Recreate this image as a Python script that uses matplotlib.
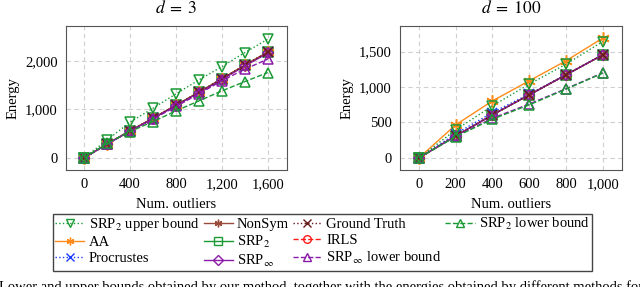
import numpy as np
import matplotlib
matplotlib.use("Agg")
from matplotlib import pyplot as plt
from matplotlib.ticker import FuncFormatter
from matplotlib.lines import Line2D

plt.rcParams['font.family'] = ['Liberation Serif', 'DejaVu Serif']
plt.rcParams['mathtext.fontset'] = 'stix'
plt.rcParams['font.size'] = 10.5

# d = 3
x3 = [0, 200, 400, 600, 800, 1000, 1200, 1400, 1600]
upper3 = [0, 370, 736, 1025, 1320, 1608, 1882, 2171, 2447]
main3 = [0, 289, 557, 818, 1086, 1354, 1629, 1911, 2179]
srpinf3 = [0, 287, 553, 812, 1078, 1343, 1615, 1895, 2160]
infLower3 = [0, 285, 550, 800, 1060, 1320, 1590, 1829, 2035]
lower3 = [0, 302, 543, 749, 969, 1175, 1381, 1573, 1759]

# d = 100
x100 = [0, 200, 400, 600, 800, 1000]
aa100 = [0, 466, 804, 1087, 1369, 1689]
upper100 = [0, 395, 734, 1040, 1322, 1641]
procr100 = [0, 340, 640, 900, 1175, 1455]
main100 = [0, 310, 607, 889, 1171, 1453]
infLower100 = [0, 305, 560, 760, 975, 1200]
lower100 = [0, 300, 546, 748, 969, 1195]

GREEN = '#1a9a35'
ORANGE = '#ff8c1a'
BLUE = '#1a3cff'
BROWN = '#9a4a3a'
PURPLE = '#8a1aa8'
RED = '#ff1a1a'
DARKRED = '#6a1a1a'
ASTER = (6, 2, 0)

styles = {
    'SRP$_2$ upper bound': dict(color=GREEN, ls=':', marker='v', mfc='none'),
    'AA': dict(color=ORANGE, ls='-', marker=ASTER, ms=9),
    'Procrustes': dict(color=BLUE, ls=':', marker='x'),
    'NonSym': dict(color=BROWN, ls='-', marker=ASTER),
    'SRP$_2$': dict(color=GREEN, ls='-', marker='s', mfc='none'),
    'SRP$_\\infty$': dict(color=PURPLE, ls='-', marker='D', mfc='none', ms=5),
    'Ground Truth': dict(color=DARKRED, ls=':', marker='x'),
    'IRLS': dict(color=RED, ls='--', marker='o', mfc='none'),
    'SRP$_\\infty$ lower bound': dict(color=PURPLE, ls='--', marker='^', mfc='none'),
    'SRP$_2$ lower bound': dict(color=GREEN, ls='--', marker='^', mfc='none'),
}

series3 = {
    'SRP$_2$ upper bound': upper3,
    'AA': main3,
    'Procrustes': main3,
    'NonSym': main3,
    'SRP$_2$': main3,
    'SRP$_\\infty$': srpinf3,
    'Ground Truth': main3,
    'IRLS': main3,
    'SRP$_\\infty$ lower bound': infLower3,
    'SRP$_2$ lower bound': lower3,
}
series100 = {
    'SRP$_2$ upper bound': upper100,
    'AA': aa100,
    'Procrustes': procr100,
    'NonSym': main100,
    'SRP$_2$': main100,
    'SRP$_\\infty$': main100,
    'Ground Truth': main100,
    'IRLS': main100,
    'SRP$_\\infty$ lower bound': infLower100,
    'SRP$_2$ lower bound': lower100,
}

fig = plt.figure(figsize=(6.4, 2.87), dpi=100)
ax1 = fig.add_axes([0.103, 0.408, 0.345, 0.502])
ax2 = fig.add_axes([0.625, 0.408, 0.347, 0.502])

order = ['IRLS', 'SRP$_2$', 'AA', 'Procrustes', 'NonSym', 'SRP$_\\infty$',
         'Ground Truth', 'SRP$_\\infty$ lower bound', 'SRP$_2$ lower bound',
         'SRP$_2$ upper bound']

for ax, xs, series in [(ax1, x3, series3), (ax2, x100, series100)]:
    for name in order:
        st = dict(styles[name])
        st.setdefault('ms', 7)
        ax.plot(xs, series[name], lw=1.0, mew=1.1, **st)
    ax.grid(True, ls=(0, (4, 3)), color='#d0d0d0', lw=0.8)
    ax.set_axisbelow(True)
    ax.yaxis.set_major_formatter(FuncFormatter(lambda v, p: f"{v:,.0f}"))
    ax.xaxis.set_major_formatter(FuncFormatter(lambda v, p: f"{v:,.0f}"))
    ax.tick_params(length=0, pad=6)
    for s in ax.spines.values():
        s.set_color('#555555')
        s.set_linewidth(0.8)
    ax.set_xlabel('Num. outliers', labelpad=5)
    ax.set_ylabel('Energy')

ax1.set_xlim(-159, 1765)
ax1.set_ylim(-247, 2722)
ax1.set_xticks([0, 400, 800, 1200, 1600])
ax1.set_yticks([0, 1000, 2000])
ax1.set_title('$d\\;=\\;3$', pad=9)

ax2.set_xlim(-103, 1105)
ax2.set_ylim(-169, 1862)
ax2.set_xticks([0, 200, 400, 600, 800, 1000])
ax2.set_yticks([0, 500, 1000, 1500])
ax2.set_title('$d\\;=\\;100$', pad=9)

leg_names = ['SRP$_2$ upper bound', 'AA', 'Procrustes',
             'NonSym', 'SRP$_2$', 'SRP$_\\infty$',
             'Ground Truth', 'IRLS', 'SRP$_\\infty$ lower bound',
             'SRP$_2$ lower bound', None, None]
handles, labels = [], []
for name in leg_names:
    if name is None:
        handles.append(Line2D([], [], ls='none'))
        labels.append('')
    else:
        st = dict(styles[name])
        st['ms'] = 5.5
        handles.append(Line2D([], [], lw=1.0, mew=1.0, **st))
        labels.append(name)

fig.legend(handles, labels, ncol=4, loc='upper left', bbox_to_anchor=(0.083, 0.255),
           fancybox=False, edgecolor='#444444', framealpha=1, handlelength=2.0,
           handletextpad=0.3, columnspacing=0.25, labelspacing=0.2,
           borderpad=0.15, borderaxespad=0)

fig.text(-0.002, 1 - 280 / 287, 'Lower and upper bounds obtained by our method, together with the energies '
         'obtained by different methods for', fontsize=10.5, va='top', ha='left')

fig.savefig('out.png', dpi=100)
